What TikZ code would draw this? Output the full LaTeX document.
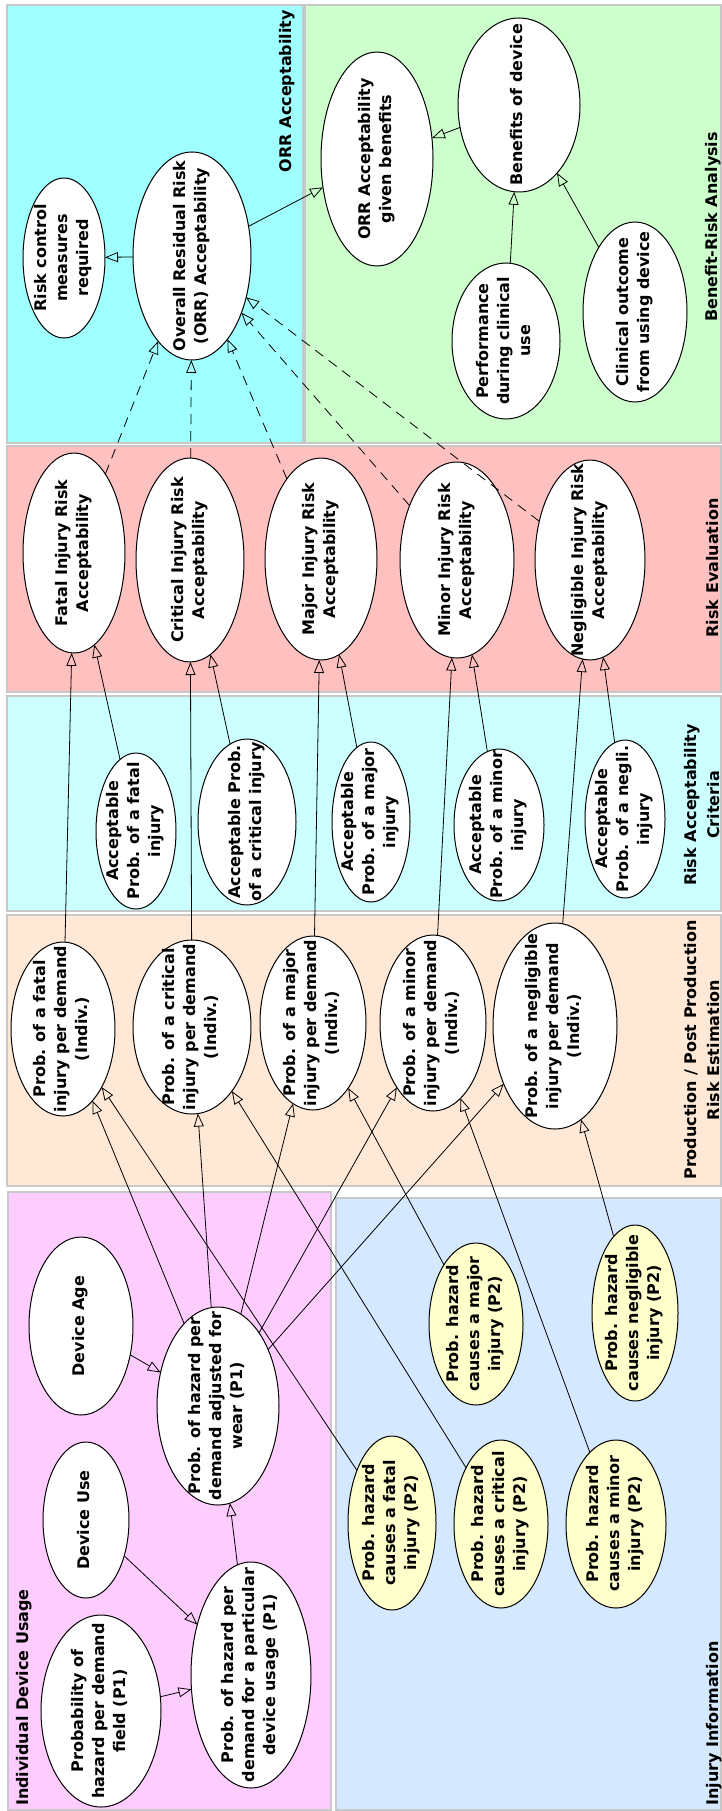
\documentclass[tikz,border=0pt]{standalone}
\usepackage{fontspec}
\setmainfont{DejaVu Sans}
\usetikzlibrary{arrows.meta,shapes.geometric}

% zero-size multi-line label, so the ellipse keeps its given size
\newcommand\tx[1]{\smash{\makebox[0pt]{\raisebox{-4pt}{\begin{tabular}{@{}c@{}}#1\end{tabular}}}}}

\definecolor{orrbg}{RGB}{160,255,255}
\definecolor{brbg}{RGB}{204,255,204}
\definecolor{evbg}{RGB}{255,192,192}
\definecolor{crbg}{RGB}{204,255,255}
\definecolor{prbg}{RGB}{255,232,214}
\definecolor{idbg}{RGB}{255,204,255}
\definecolor{inbg}{RGB}{212,232,255}
\definecolor{yel}{RGB}{255,255,204}
\definecolor{pgray}{RGB}{200,200,200}

\tikzset{
  panel/.style={draw=pgray, line width=1.5pt},
  bub/.style 2 args={ellipse, draw=black, line width=1pt, fill=white,
    inner sep=0pt, outer sep=0pt, rotate=90,
    minimum width={2*#2}, minimum height={2*#1},
    font=\bfseries\fontsize{16}{21}\selectfont},
  ybub/.style 2 args={bub={#1}{#2}, fill=yel},
  lab/.style={rotate=90, inner sep=0pt, align=center,
    font=\bfseries\fontsize{16}{23}\selectfont},
  arr/.style={line width=0.8pt, -{Triangle[open, length=13pt, width=10pt]}},
  darr/.style={arr, dash pattern=on 10pt off 7pt},
}

\begin{document}
\begin{tikzpicture}[x=1pt, y=-1pt]
\useasboundingbox (0,0) rectangle (722,1811);
\fill[white] (0,0) rectangle (722,1811);

% ---------- swim-lane panels ----------
\draw[panel, fill=orrbg] (7,5) rectangle (303,443);
\draw[panel, fill=brbg]  (305,5) rectangle (721,443);
\draw[panel, fill=evbg]  (7,446) rectangle (721,692);
\draw[panel, fill=crbg]  (7,696) rectangle (721,911);
\draw[panel, fill=prbg]  (7,915) rectangle (721,1186);
\draw[panel, fill=idbg]  (8,1192) rectangle (331,1810);
\draw[panel, fill=inbg]  (336,1198) rectangle (721,1810);

% ---------- panel titles ----------
\node[lab, anchor=east] (tOrr) at (287,10) {ORR Acceptability};
\node[lab] (tBr)  at (713,227) {Benefit-Risk Analysis};
\node[lab] (tEv)  at (713,568) {Risk Evaluation};
\node[lab] (tCr)  at (702,805) {Risk Acceptability\\Criteria};
\node[lab] (tPr)  at (702,1050) {Production / Post Production\\Risk Estimation};
\node[lab, anchor=west] (tId) at (24,1806) {Individual Device Usage};
\node[lab, anchor=west] (tIn) at (714,1806) {Injury Information};

% ---------- ORR acceptability / benefit-risk ----------
\node[bub={41}{80}]  (rc)    at (64,258)  {\tx{Risk control\\measures\\required}};
\node[bub={59}{104}] (orr)   at (192,256) {\tx{Overall Residual Risk\\(ORR) Acceptability}};
\node[bub={56}{107}] (orrb)  at (377,159) {\tx{ORR Acceptability\\given benefits}};
\node[bub={61}{87}]  (ben)   at (519,105) {\tx{Benefits of device}};
\node[bub={54}{78}]  (perf)  at (506,341) {\tx{Performance\\during clinical\\use}};
\node[bub={52}{90}]  (clin)  at (635,312) {\tx{Clinical outcome\\from using device}};

% ---------- risk evaluation ----------
\node[bub={51}{100}] (evF) at (74,553)  {\tx{Fatal Injury Risk\\Acceptability}};
\node[bub={54}{102}] (evC) at (190,560) {\tx{Critical Injury Risk\\Acceptability}};
\node[bub={56}{101}] (evJ) at (321,559) {\tx{Major Injury Risk\\Acceptability}};
\node[bub={57}{98}]  (evM) at (457,560) {\tx{Minor Injury Risk\\Acceptability}};
\node[bub={55}{100}] (evN) at (590,560) {\tx{Negligible Injury Risk\\Acceptability}};

% ---------- acceptability criteria ----------
\node[bub={40}{78}] (crF) at (136,831) {\tx{Acceptable\\Prob. of a fatal\\injury}};
\node[bub={49}{83}] (crC) at (247,822) {\tx{Acceptable Prob.\\of a critical injury}};
\node[bub={39}{80}] (crJ) at (371,822) {\tx{Acceptable\\Prob. of a major\\injury}};
\node[bub={45}{76}] (crM) at (499,825) {\tx{Acceptable\\Prob. of a minor\\injury}};
\node[bub={40}{79}] (crN) at (625,819) {\tx{Acceptable\\Prob. of a negli.\\injury}};

% ---------- production / post production estimation ----------
\node[bub={52}{87}]  (prF) at (63,1029)  {\tx{Prob. of a fatal\\injury per demand\\(Indiv.)}};
\node[bub={59}{87}]  (prC) at (192,1027) {\tx{Prob. of a critical\\injury per demand\\(Indiv.)}};
\node[bub={53}{87}]  (prJ) at (313,1023) {\tx{Prob. of a major\\injury per demand\\(Indiv.)}};
\node[bub={53}{88}]  (prM) at (433,1023) {\tx{Prob. of a minor\\injury per demand\\(Indiv.)}};
\node[bub={62}{103}] (prN) at (555,1026) {\tx{Prob. of a negligible\\injury per demand\\(Indiv.)}};

% ---------- individual device usage ----------
\node[bub={52}{89}]  (age)  at (81,1326)  {\tx{Device Age}};
\node[bub={61}{99}]  (wear) at (218,1406) {\tx{Prob. of hazard per\\demand adjusted for\\wear (P1)}};
\node[bub={43}{78}]  (use)  at (86,1520)  {\tx{Device Use}};
\node[bub={60}{96}]  (fld)  at (101,1711) {\tx{Probability of\\hazard per demand\\field (P1)}};
\node[bub={60}{113}] (part) at (251,1675) {\tx{Prob. of hazard per\\demand for a particular\\device usage (P1)}};

% ---------- injury information ----------
\node[ybub={47}{81}] (pJ) at (476,1324) {\tx{Prob. hazard\\causes a major\\injury (P2)}};
\node[ybub={43}{88}] (pN) at (635,1313) {\tx{Prob. hazard\\causes negligible\\injury (P2)}};
\node[ybub={44}{87}] (pF) at (392,1523) {\tx{Prob. hazard\\causes a fatal\\injury (P2)}};
\node[ybub={47}{84}] (pC) at (501,1524) {\tx{Prob. hazard\\causes a critical\\injury (P2)}};
\node[ybub={50}{84}] (pM) at (616,1524) {\tx{Prob. hazard\\causes a minor\\injury (P2)}};

% ---------- connectors ----------
\draw[arr] (orr) -- (rc);
\draw[arr] (orr) -- (orrb);
\draw[arr] (ben) -- (orrb);
\draw[arr] (perf) -- (ben);
\draw[arr] (clin) -- (ben);

\foreach \e in {evF,evC,evJ,evM,evN}
  \draw[darr] (\e) -- (orr);

\draw[arr] (prF) -- (evF);  \draw[arr] (crF) -- (evF);
\draw[arr] (prC) -- (evC);  \draw[arr] (crC) -- (evC);
\draw[arr] (prJ) -- (evJ);  \draw[arr] (crJ) -- (evJ);
\draw[arr] (prM) -- (evM);  \draw[arr] (crM) -- (evM);
\draw[arr] (prN) -- (evN);  \draw[arr] (crN) -- (evN);

\foreach \p in {prF,prC,prJ,prM,prN}
  \draw[arr] (wear) -- (\p);
\draw[arr] (pF) -- (prF);
\draw[arr] (pC) -- (prC);
\draw[arr] (pJ) -- (prJ);
\draw[arr] (pM) -- (prM);
\draw[arr] (pN) -- (prN);

\draw[arr] (age)  -- (wear);
\draw[arr] (part) -- (wear);
\draw[arr] (use)  -- (part);
\draw[arr] (fld)  -- (part);
\end{tikzpicture}
\end{document}
